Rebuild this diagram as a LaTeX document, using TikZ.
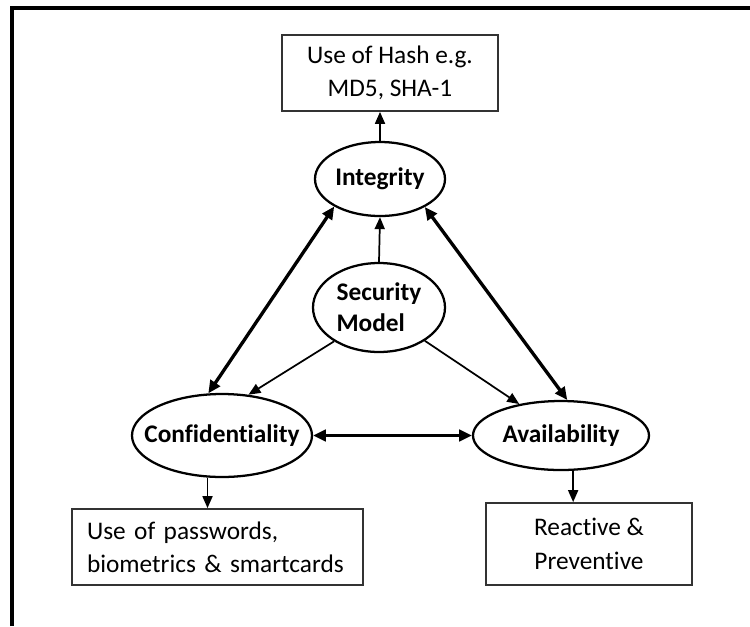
\documentclass[tikz,border=0pt]{standalone}
\usepackage{fontspec}
\setmainfont{Carlito}[Ligatures=NoCommon]
\usetikzlibrary{arrows.meta,shapes.geometric}
\begin{document}
\begin{tikzpicture}[x=0.75pt,y=-0.75pt,
  ell/.style={draw=black,line width=1.7pt,ellipse,inner sep=0pt},
  elltext/.style={font=\fontsize{19}{23}\selectfont\bfseries,inner sep=0pt,align=left},
  infobox/.style={draw=black!80,line width=1.3pt,rectangle,inner sep=0pt,
    font=\fontsize{19}{25}\selectfont},
  oneway/.style={line width=1.3pt,-{Triangle[length=9pt,width=7.5pt]}},
  twoway/.style={line width=2.5pt,
    {Triangle[length=9.5pt,width=8.5pt]}-{Triangle[length=9.5pt,width=8.5pt]}}]
\useasboundingbox (0,0) rectangle (750,626);

% frame lines along the top and left edges
\draw[line width=3pt,line join=miter] (12,626) -- (12,7.5) -- (760,7.5);

% the four ellipses of the model
\node[ell,minimum width=97.5pt,minimum height=55.5pt] (integ) at (380,179) {};
\node[elltext] (integ-t) at (integ) {Integrity};
\node[ell,minimum width=99pt,minimum height=66.75pt] (sec) at (379,307.5) {};
\node[elltext] (sec-t) at (sec) {Security\\Model};
\node[ell,minimum width=135pt,minimum height=62.25pt] (conf) at (222,435.5) {};
\node[elltext] (conf-t) at (conf) {Confidentiality};
\node[ell,minimum width=132pt,minimum height=51.75pt] (avail) at (561,435.5) {};
\node[elltext] (avail-t) at (avail) {Availability};

% the three text boxes
\node[infobox,minimum width=162pt,minimum height=57pt,align=center] (hash) at (390,73)
  {Use of Hash e.g.\\MD5, SHA-1};
\node[infobox,minimum width=218.25pt,minimum height=57pt,text width=195.75pt,
  inner xsep=11.25pt,align=left] (pass) at (217.5,547)
  {Use of passwords,\\biometrics \& smartcards};
\node[infobox,minimum width=154.5pt,minimum height=61.5pt,align=center] (react) at (589,544)
  {Reactive \&\\Preventive};

% connectors
\draw[oneway] (integ.north) -- (integ.north |- hash.south);
\draw[oneway] (sec.north) -- (integ.south);
\draw[twoway] (conf.108.8) -- (integ.211.7);
\draw[twoway] (integ.328.9) -- (avail.80);
\draw[oneway] (sec.217) -- (conf.57);
\draw[oneway] (sec.324) -- (avail.143);
\draw[twoway] (conf.east) -- (avail.west);
\draw[oneway] (conf.251) -- (conf.251 |- pass.north);
\draw[oneway] (avail.289) -- (avail.289 |- react.north);
\end{tikzpicture}
\end{document}
